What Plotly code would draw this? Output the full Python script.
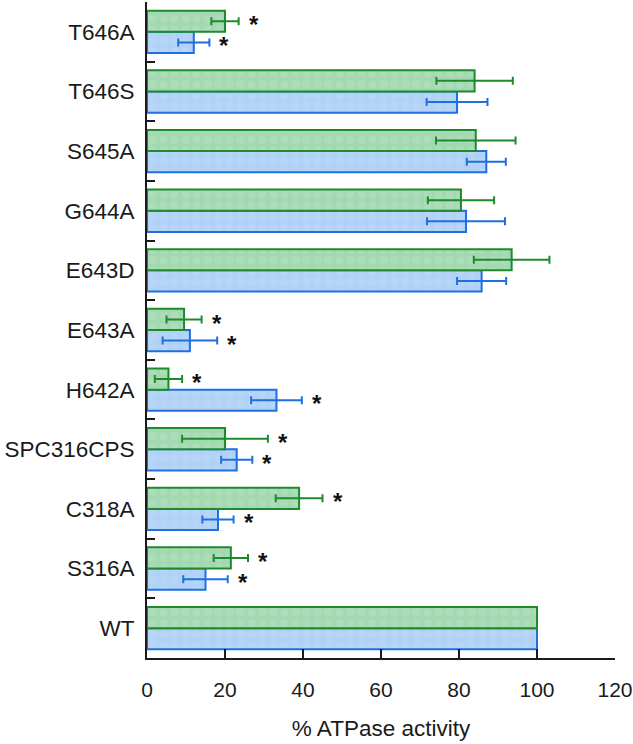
import plotly.graph_objects as go

categories = ["WT", "S316A", "C318A", "SPC316CPS", "H642A", "E643A",
              "E643D", "G644A", "S645A", "T646S", "T646A"]
green_vals = [100, 21.5, 39, 20, 5.5, 9.5, 93.5, 80.5, 84.3, 84, 20]
green_err = [0, 4.4, 6, 11, 3.5, 4.5, 9.7, 8.5, 10.2, 9.8, 3.5]
blue_vals = [100, 15, 18.2, 23, 33.2, 11, 85.8, 81.8, 87, 79.5, 12]
blue_err = [0, 5.7, 4, 4, 6.5, 7, 6.3, 10, 5, 7.8, 4]
green_sig = [False, True, True, True, True, True, False, False, False, False, True]
blue_sig = [False, True, True, True, True, True, False, False, False, False, True]

GREEN_LINE = "#1e8a2c"
GREEN_FILL = "#a3d9b1"
BLUE_LINE = "#1f6fe0"
BLUE_FILL = "#b1d2f6"

fig = go.Figure()
fig.add_trace(go.Bar(
    y=categories, x=blue_vals, orientation="h", name="blue",
    marker=dict(color=BLUE_FILL, line=dict(color=BLUE_LINE, width=2),
                pattern=dict(shape=".", fgcolor="#bdd9f8", size=11, solidity=0.4)),
    error_x=dict(type="data", array=blue_err, color=BLUE_LINE, thickness=2, width=4),
))
fig.add_trace(go.Bar(
    y=categories, x=green_vals, orientation="h", name="green",
    marker=dict(color=GREEN_FILL, line=dict(color=GREEN_LINE, width=2),
                pattern=dict(shape=".", fgcolor="#b5e0c1", size=11, solidity=0.4)),
    error_x=dict(type="data", array=green_err, color=GREEN_LINE, thickness=2, width=4),
))

annotations = []
for cat, v, e, s in zip(categories, green_vals, green_err, green_sig):
    if s:
        annotations.append(dict(x=v + e, y=cat, text="<b>*</b>", showarrow=False,
                                xanchor="left", yanchor="middle", xshift=8, yshift=7,
                                font=dict(size=24, color="#111")))
for cat, v, e, s in zip(categories, blue_vals, blue_err, blue_sig):
    if s:
        annotations.append(dict(x=v + e, y=cat, text="<b>*</b>", showarrow=False,
                                xanchor="left", yanchor="middle", xshift=8, yshift=-14,
                                font=dict(size=24, color="#111")))

fig.update_layout(
    width=633, height=744,
    margin=dict(l=147, r=18, t=2, b=86),
    paper_bgcolor="white", plot_bgcolor="white",
    barmode="group", bargap=0.29, bargroupgap=0,
    showlegend=False,
    font=dict(family="Liberation Sans, Arial, sans-serif", size=21, color="#1a1a1a"),
    annotations=annotations,
)
fig.update_xaxes(
    range=[0, 120], tickvals=[0, 20, 40, 60, 80, 100, 120],
    ticks="inside", ticklen=9, tickwidth=2, tickcolor="#1a1a1a",
    showline=True, linecolor="#1a1a1a", linewidth=2,
    showgrid=False, zeroline=False, ticklabelstandoff=12,
    tickfont=dict(size=21), automargin=False,
    title=dict(text="% ATPase activity", standoff=20, font=dict(size=22.5)),
)
fig.update_yaxes(
    type="category", categoryorder="array", categoryarray=categories,
    tickson="boundaries", ticks="inside", ticklen=8, tickwidth=2, tickcolor="#1a1a1a",
    showline=True, linecolor="#1a1a1a", linewidth=2,
    showgrid=False, zeroline=False, ticklabelstandoff=6,
    tickfont=dict(size=22.5), automargin=False,
)

fig.write_html("out.html", post_script="document.body.style.margin='0';",
               config={"displayModeBar": False})
